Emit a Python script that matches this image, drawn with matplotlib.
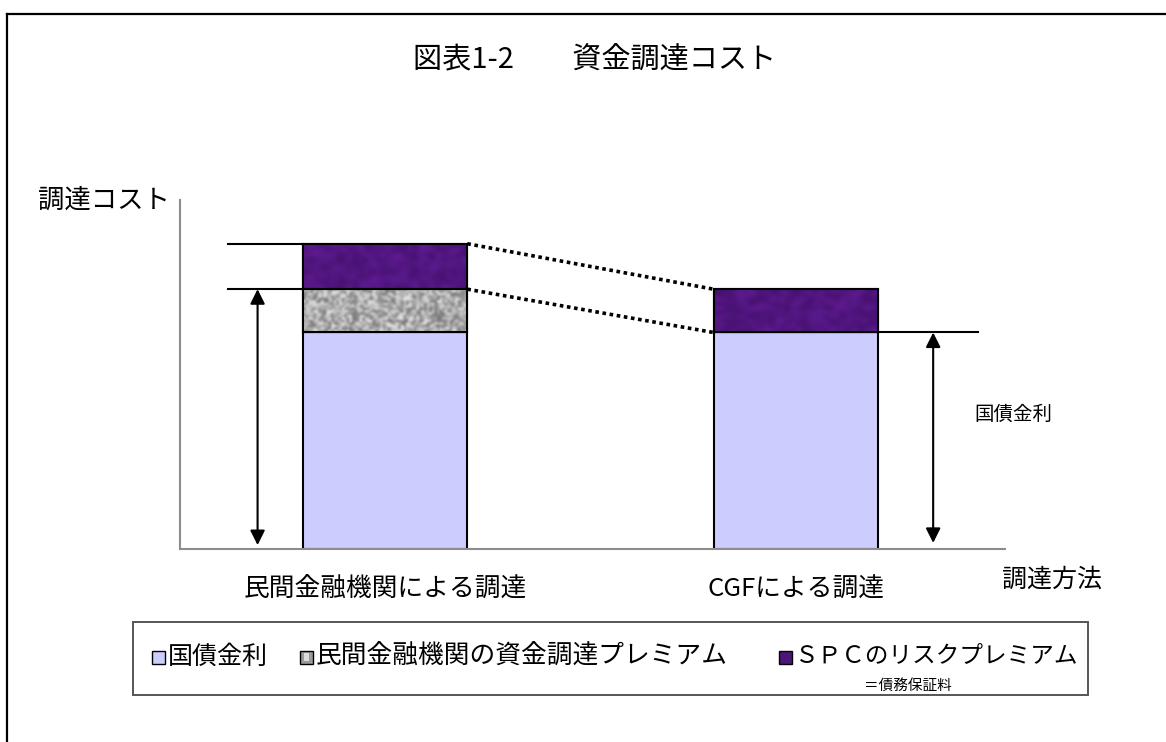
import numpy as np
import matplotlib
matplotlib.use("Agg")
import matplotlib.pyplot as plt
from matplotlib.patches import Rectangle

plt.rcParams['font.family'] = ['Noto Sans CJK JP', 'DejaVu Sans']

# --- data -------------------------------------------------------------
categories = ["民間金融機関による調達", "CGFによる調達"]
series_names = ["国債金利", "民間金融機関の資金調達プレミアム", "ＳＰＣのリスクプレミアム"]
jgb_rate = [5.0, 5.0]          # 国債金利
bank_premium = [1.0, 0.0]      # 民間金融機関の資金調達プレミアム
spc_premium = [1.05, 1.0]      # SPCのリスクプレミアム (= 債務保証料)
title = "図表1-2　　資金調達コスト"
y_label = "調達コスト"
x_label = "調達方法"
right_note = "国債金利"
legend_subnote = "＝債務保証料"

W, H = 1166, 742
fig = plt.figure(figsize=(W / 100, H / 100), dpi=100)


def fx(px):
    return px / W


def fy(py):
    return 1 - py / H


# outer frame (open on the right and bottom)
fig.add_artist(plt.Line2D([fx(7), 1.0], [fy(14), fy(14)], color='black', lw=1.6))
fig.add_artist(plt.Line2D([fx(7), fx(7)], [fy(14), 0.0], color='black', lw=1.6))

ax = fig.add_axes([fx(180), fy(549), fx(1005) - fx(180), fy(200) - fy(549)])
for s in ['top', 'right']:
    ax.spines[s].set_visible(False)
for s in ['left', 'bottom']:
    ax.spines[s].set_color('#8c8c8c')
    ax.spines[s].set_linewidth(1.5)
ax.set_xticks([])
ax.set_yticks([])

x = np.arange(len(categories))
width = 0.4
blue = '#ccccff'
purple = '#4a1777'

rng = np.random.default_rng(7)


def texture(kind, shape):
    n = rng.random(shape)
    if kind == 'gray':
        v = 0.42 + 0.52 * n
        return np.dstack([v, v, v])
    r = 0.26 + 0.12 * n
    g = 0.06 + 0.05 * n
    b = 0.42 + 0.16 * n
    return np.dstack([r, g, b])


bottoms = np.zeros(len(categories))
b1 = ax.bar(x, jgb_rate, width, bottom=bottoms, color=blue, edgecolor='black', linewidth=1.5, zorder=2)
bottoms = bottoms + np.array(jgb_rate)
b2 = ax.bar(x, bank_premium, width, bottom=bottoms, color='#b0b0b0', edgecolor='black', linewidth=1.5, zorder=2)
bottoms2 = bottoms + np.array(bank_premium)
b3 = ax.bar(x, spc_premium, width, bottom=bottoms2, color=purple, edgecolor='black', linewidth=1.5, zorder=2)

# textured fills clipped to the bar shapes
for bars, kind, grid in [(b2, 'gray', (18, 64)), (b3, 'purple', (10, 30))]:
    for p in bars:
        if p.get_height() <= 0:
            continue
        x0, y0 = p.get_x(), p.get_y()
        img = ax.imshow(texture(kind, grid), extent=[x0, x0 + p.get_width(), y0, y0 + p.get_height()],
                        aspect='auto', interpolation='bicubic', zorder=2.5)
        img.set_clip_path(p)
        ax.add_patch(Rectangle((x0, y0), p.get_width(), p.get_height(), fill=False,
                               edgecolor='black', linewidth=1.5, zorder=3))
ax.set_xlim(-0.5, 1.51)
ax.set_ylim(0, 8.06)

tops1 = [jgb_rate[0] + bank_premium[0] + spc_premium[0], jgb_rate[0] + bank_premium[0]]
tops2 = [jgb_rate[1] + bank_premium[1] + spc_premium[1], jgb_rate[1] + bank_premium[1]]

# dotted connectors between the bars
for ya, yb in zip(tops1, tops2):
    ax.plot([x[0] + width / 2, x[1] - width / 2], [ya, yb], color='black', lw=2.6,
            linestyle=(0, (1, 1)), zorder=4, clip_on=False)

# guide lines and dimension arrow on the left bar
for yv in tops1:
    ax.plot([x[0] - width / 2 - 0.183, x[0] - width / 2], [yv, yv], color='black', lw=1.5,
            clip_on=False, zorder=3)
ax.annotate('', xy=(x[0] - 0.311, tops1[1]), xytext=(x[0] - 0.311, 0.09),
            arrowprops=dict(arrowstyle='<|-|>', color='black', lw=1.5, mutation_scale=22,
                            shrinkA=0, shrinkB=0))

# guide line and arrow on the right bar
ax.plot([x[1] + width / 2, x[1] + 0.443], [jgb_rate[1], jgb_rate[1]], color='black', lw=1.5,
        clip_on=False, zorder=3)
ax.annotate('', xy=(x[1] + 0.335, jgb_rate[1]), xytext=(x[1] + 0.335, 0.14),
            arrowprops=dict(arrowstyle='<|-|>', color='black', lw=1.5, mutation_scale=22,
                            shrinkA=0, shrinkB=0))

# texts
fig.text(fx(595), fy(60), title, ha='center', va='center', fontsize=21)
fig.text(fx(38), fy(200), y_label, ha='left', va='center', fontsize=19)
fig.text(fx(1052), fy(580), x_label, ha='center', va='center', fontsize=18)
fig.text(fx(1013), fy(414), right_note, ha='center', va='center', fontsize=14)
for xi, lab in zip(x, categories):
    ax.text(xi, -0.95, lab, ha='center', va='center', fontsize=18.5,
            transform=ax.transData, clip_on=False)

# legend box
fig.add_artist(Rectangle((fx(133), fy(695)), fx(1088) - fx(133), fy(622) - fy(695),
                         fill=False, edgecolor='#555555', lw=1.4, transform=fig.transFigure))
legend_items = [(152, blue, 'plain', 18), (300, '#9a9a9a', 'gray', 18.5), (779, purple, 'purple', 17)]
sq = 13
yc = 657
for (lx, col, kind, fs), name in zip(legend_items, series_names):
    r = Rectangle((fx(lx), fy(yc + sq / 2)), fx(sq), fy(yc - sq / 2) - fy(yc + sq / 2),
                  facecolor=col, edgecolor='black', lw=1.0, transform=fig.transFigure)
    fig.add_artist(r)
    if kind == 'gray':
        fig.add_artist(Rectangle((fx(lx + 4), fy(yc + 4)), fx(5), fy(yc - 4) - fy(yc + 4),
                                 facecolor='#dcdcdc', edgecolor='none', transform=fig.transFigure))
    fig.text(fx(lx + 16), fy(yc), name, ha='left', va='center', fontsize=fs)
fig.text(fx(864), fy(686), legend_subnote, ha='left', va='center', fontsize=10.5)

fig.savefig('out.png', dpi=100)
